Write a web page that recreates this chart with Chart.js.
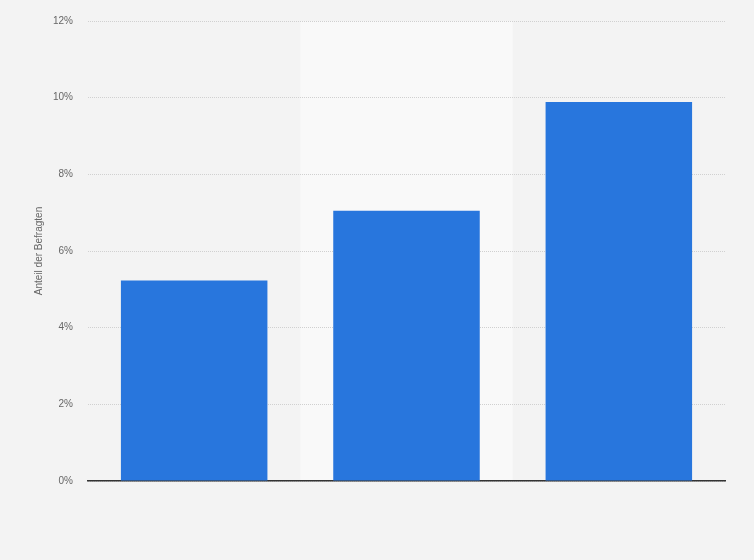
<!DOCTYPE html>
<html>
<head>
<meta charset="utf-8">
<script src="https://cdn.jsdelivr.net/npm/chart.js@4"></script>
<style>
  html, body { margin: 0; padding: 0; background: #f3f3f3; }
  #wrap { width: 754px; height: 560px; }
</style>
</head>
<body>
<div id="wrap"><canvas id="chart1"></canvas></div>
<script>
const categories = ["", " ", "  "];
const shares = [5.23, 7.05, 9.89];
const yTicks = [0, 2, 4, 6, 8, 10, 12];

// lighter column behind every second category
const bandPlugin = {
  id: "band",
  beforeDraw(chart) {
    const { ctx, chartArea, scales } = chart;
    const x = scales.x;
    const step = x.width / categories.length;
    ctx.save();
    ctx.fillStyle = "#f9f9f9";
    categories.forEach((c, i) => {
      if (i % 2 !== 1) return;
      const cx = x.getPixelForValue(i);
      ctx.fillRect(cx - step / 2, chartArea.top, step, chartArea.bottom - chartArea.top);
    });
    ctx.restore();
  }
};

function makeChart(id) {
  const canvas = document.getElementById(id);
  if (!canvas || !window.Chart) return;
  canvas._chartInstance = new Chart(canvas, {
    type: "bar",
    data: {
      labels: categories,
      datasets: [{ label: "Anteil", data: shares, backgroundColor: "#2876dd", borderWidth: 0, categoryPercentage: 0.69, barPercentage: 1 }]
    },
    options: {
      responsive: true,
      maintainAspectRatio: false,
      animation: false,
      layout: { padding: { top: 11, right: 29, bottom: 79, left: 33 } },
      plugins: { legend: { display: false }, tooltip: { enabled: false } },
      scales: {
        x: {
          grid: { display: false, drawTicks: false },
          border: { color: "#333333", width: 1.5 },
          ticks: { display: false }
        },
        y: {
          min: 0,
          max: 12,
          afterBuildTicks: (axis) => { axis.ticks = yTicks.map(v => ({ value: v })); },
          afterFit: (axis) => { axis.width = 55; },
          grid: { color: "#d0d0d0", drawTicks: false, lineWidth: 1 },
          border: { display: false, dash: [1, 1] },
          ticks: { color: "#666666", font: { family: "Arial, 'Liberation Sans', sans-serif", size: 10 }, padding: 15, callback: v => v + "%" },
          title: { display: true, text: "Anteil der Befragten", color: "#666666", font: { family: "Arial, 'Liberation Sans', sans-serif", size: 10 }, padding: { top: 0, bottom: 0 } }
        }
      }
    },
    plugins: [bandPlugin]
  });
}

makeChart("chart1");
</script>
</body>
</html>
